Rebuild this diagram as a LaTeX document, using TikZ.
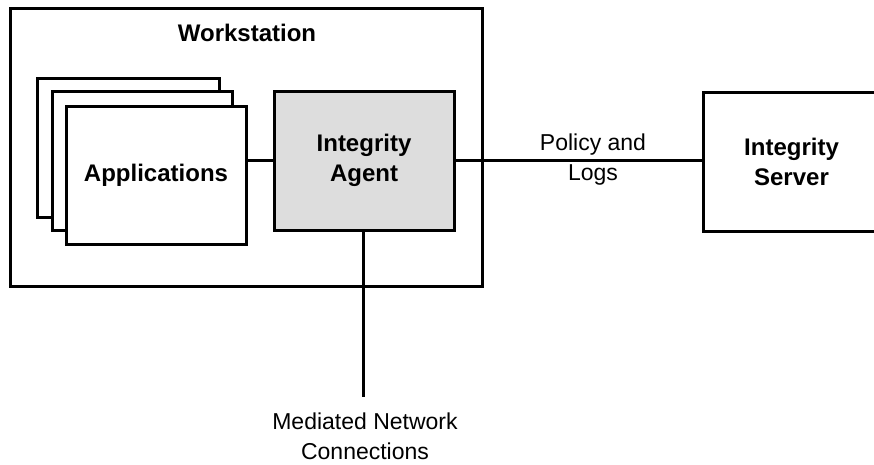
\documentclass[tikz,border=0pt]{standalone}
\usepackage{fontspec}
\setmainfont{Liberation Sans}
\begin{document}
\begin{tikzpicture}[x=1pt,y=-1pt,
  box/.style={draw=black, line width=3pt, fill=white, inner sep=0pt, outer sep=0pt,
    align=center, font=\fontsize{24}{30}\selectfont\bfseries},
  lbl/.style={align=center, inner sep=0pt, font=\fontsize{23}{30}\selectfont},
  wire/.style={line width=3pt}]
\useasboundingbox (0,0) rectangle (874,464);
\node[box, minimum width=472pt, minimum height=278pt] (ws) at (246,147) {};
\node[font=\fontsize{24}{30}\selectfont\bfseries, inner sep=0pt] (wslbl) at (247,33) {Workstation};
\node[box, minimum width=182pt, minimum height=139pt] (app3) at (128,147.5) {};
\node[box, minimum width=180pt, minimum height=139pt] (app2) at (142,160.5) {};
\node[box, minimum width=180pt, minimum height=138pt] (app1) at (156,175) {Applications};
\node[box, fill={rgb,255:red,221;green,221;blue,221}, minimum width=180pt, minimum height=139pt] (agent) at (364,160.5) {Integrity\\Agent};
\node[box, minimum width=177pt, minimum height=139pt] (server) at (791.5,161.5) {Integrity\\Server};
\coordinate (net) at (363,397);
\draw[wire] (agent.west) -- (agent.west -| app1.east);
\draw[wire] (agent.east) -- (agent.east -| server.west);
\draw[wire] (agent.south -| net) -- (net);
\node[lbl] (pol) at (593,160) {Policy and\\Logs};
\node[lbl] (med) at (365,436) {Mediated Network\\Connections};
\end{tikzpicture}
\end{document}
